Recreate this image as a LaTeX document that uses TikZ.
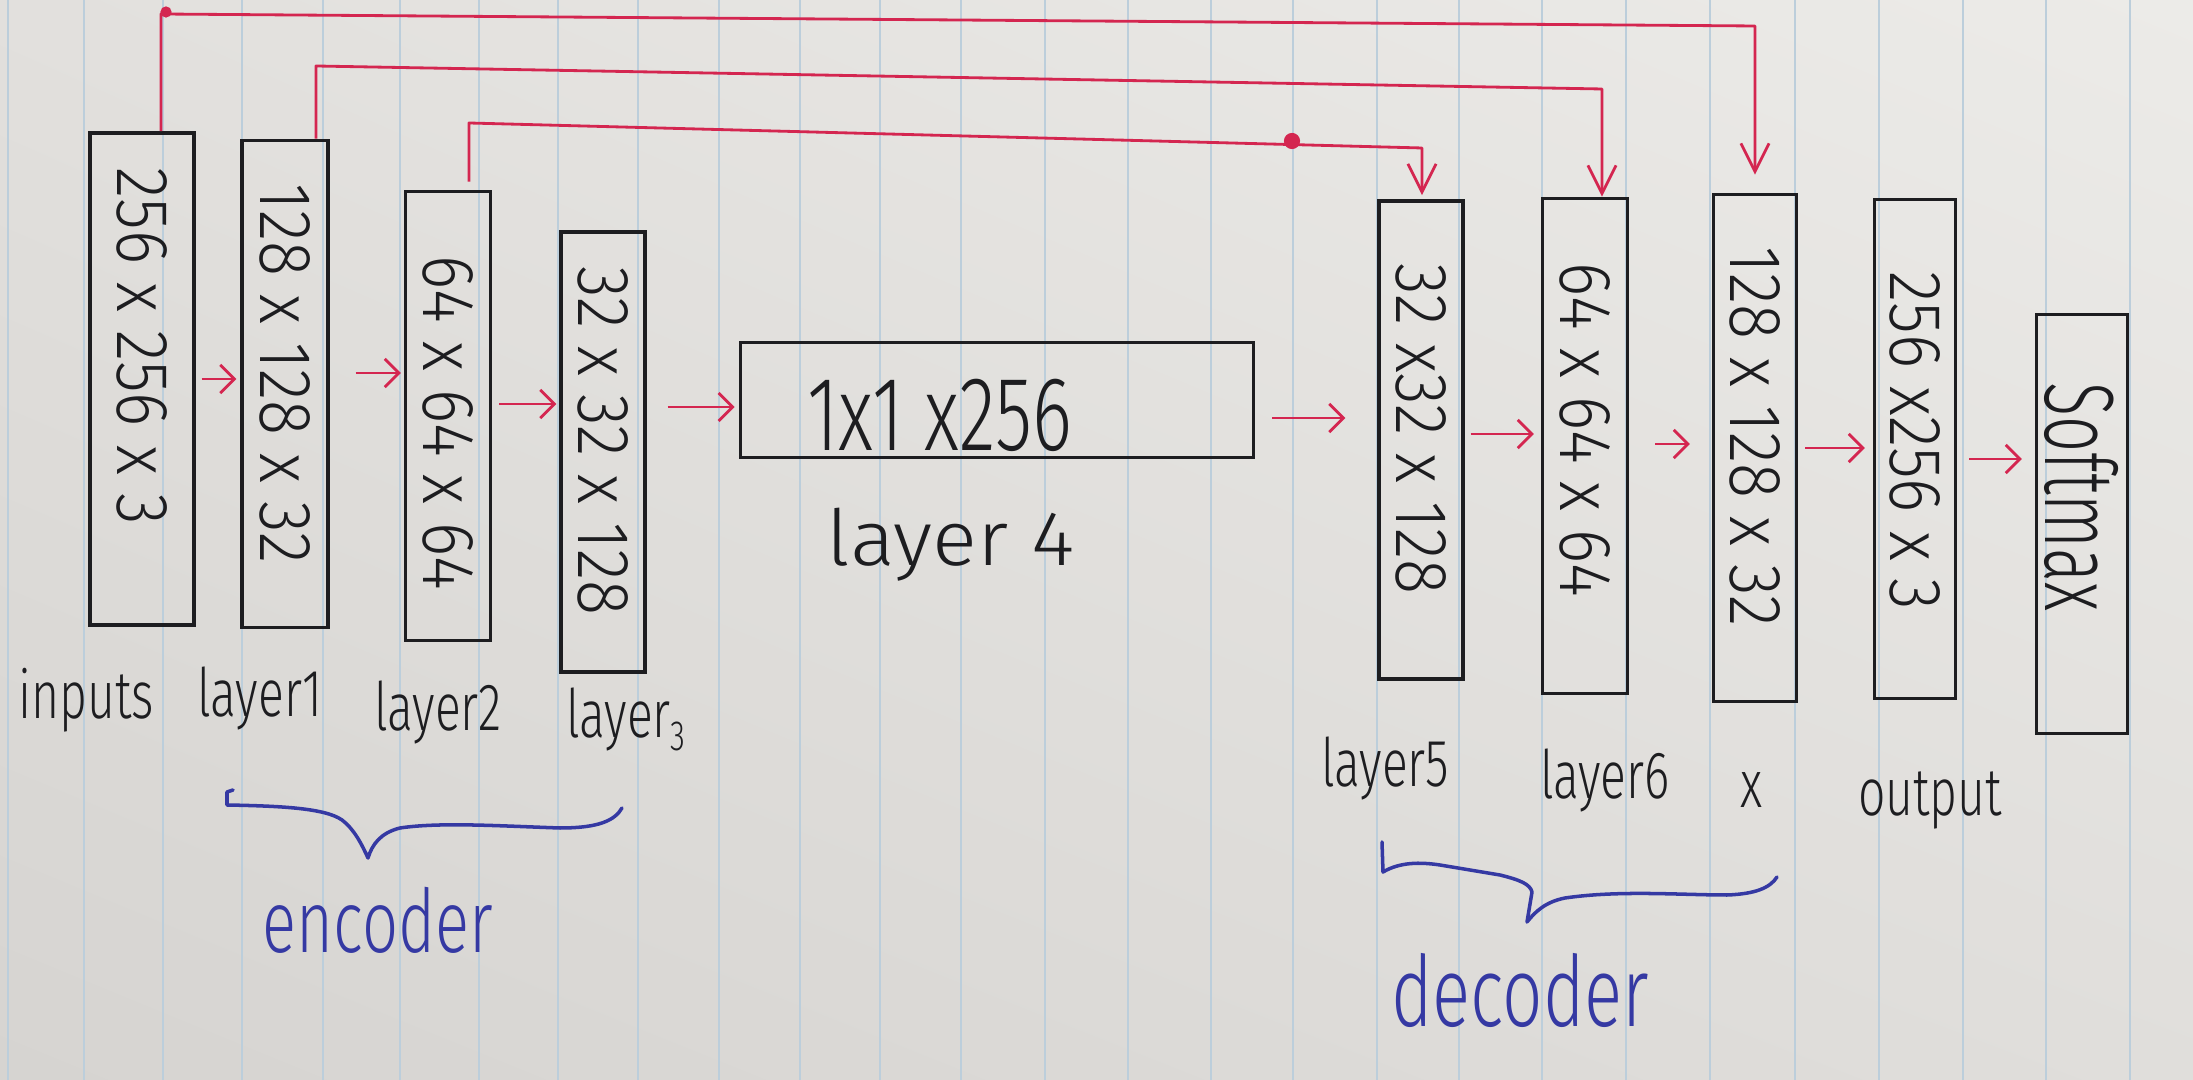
\documentclass[tikz,border=0pt]{standalone}
\usepackage{fontspec}
\newcommand\handname{Open Sans}
\IfFontExistsTF{Fira Sans Light}{\renewcommand\handname{Fira Sans Light}}{}
\newfontfamily\hand{\handname}[FakeStretch=0.72]
\newfontfamily\handdim{\handname}[FakeStretch=0.88]
\newfontfamily\handsm{\handname}[FakeStretch=0.64]
\newfontfamily\handwide{\handname}[FakeStretch=1.08]
\usetikzlibrary{arrows.meta,calc,shadings}
\definecolor{ink}{HTML}{1D1D20}
\definecolor{pen}{HTML}{D42650}
\definecolor{blueink}{HTML}{3539A3}
\definecolor{rule}{HTML}{BCCEDB}
\definecolor{paperUL}{HTML}{E2E0DD}
\definecolor{paperUR}{HTML}{ECEBE8}
\definecolor{paperLL}{HTML}{D6D4D1}
\definecolor{paperLR}{HTML}{E0DEDB}
\begin{document}
\begin{tikzpicture}[x=0.01cm,y=-0.01cm,
  box/.style={draw=ink, line width=0.95pt, inner sep=0pt},
  dim/.style={font=\handdim\fontsize{21}{21}\selectfont, text=ink, rotate=-90, inner sep=0pt},
  lab/.style={font=\hand\fontsize{19}{19}\selectfont, text=ink, inner sep=0pt},
  grp/.style={font=\hand\fontsize{#1}{#1}\selectfont, text=blueink, inner sep=0pt},
  flow/.style={draw=pen, line width=0.8pt, -{Straight Barb[length=4pt,width=8pt]}},
  skip/.style={draw=pen, line width=0.8pt, line join=round, -{Straight Barb[length=8pt,width=8pt]}},
  brace/.style={draw=blueink, line width=1pt, line join=round, line cap=round}]

% lined paper
\useasboundingbox (0,0) rectangle (2193,1080);
\shade[upper left=paperUL, upper right=paperUR, lower left=paperLL, lower right=paperLR]
  (0,0) rectangle (2193,1080);
\foreach \xr in {8,84,163,242,323,400,479,558,638,719,800,880,961,1045,
                 1128,1211,1293,1377,1459,1542,1626,1710,1795,1879,1963,2046,2130}
  \draw[rule, line width=0.5pt] (\xr,0) -- (\xr,1080);

% layer blocks
\node[box, minimum width=1.04cm, minimum height=4.92cm] (inp) at (142,379) {};
\node[box, minimum width=0.86cm, minimum height=4.87cm] (l1) at (285,384) {};
\node[box, minimum width=0.85cm, minimum height=4.49cm] (l2) at (448,416) {};
\node[box, minimum width=0.84cm, minimum height=4.40cm] (l3) at (603,452) {};
\node[box, minimum width=5.13cm, minimum height=1.15cm] (l4) at (997,400) {};
\node[box, minimum width=0.84cm, minimum height=4.78cm] (l5) at (1421,440) {};
\node[box, minimum width=0.85cm, minimum height=4.95cm] (l6) at (1585,446) {};
\node[box, minimum width=0.83cm, minimum height=5.07cm] (lx) at (1755,448) {};
\node[box, minimum width=0.81cm, minimum height=4.99cm] (out) at (1915,449) {};
\node[box, minimum width=0.91cm, minimum height=4.19cm] (sm) at (2082,524) {};

% tensor shapes
\node[dim] (tinp) at (142,346) {256 x 256 x 3};
\node[dim] (t1) at (285,374) {128 x 128 x 32};
\node[dim] (t2) at (448,423) {64 x 64 x 64};
\node[dim] (t3) at (603,441) {32 x 32 x 128};
\node[font=\hand\fontsize{30}{30}\selectfont, text=ink, inner sep=0pt] (t4) at (940,415) {1x1 x256};
\node[dim] (t5) at (1421,429) {32 x32 x 128};
\node[dim] (t6) at (1585,430) {64 x 64 x 64};
\node[dim] (tx) at (1755,437) {128 x 128 x 32};
\node[dim] (tout) at (1915,441) {256 x256 x 3};
\node[dim, font=\handsm\fontsize{28}{28}\selectfont] (tsm) at (2082,497) {Softmax};

% layer names
\node[lab] (ninp) at (86,700) {inputs};
\node[lab] (n1) at (260,698) {layer1};
\node[lab] (n2) at (438,713) {layer2};
\node[lab] (n3) at (626,720) {layer\raisebox{-0.35ex}{\fontsize{12}{12}\selectfont 3}};
\node[font=\handwide\fontsize{22}{22}\selectfont, text=ink, inner sep=0pt] (n4) at (951,545) {layer 4};
\node[lab] (n5) at (1385,768) {layer5};
\node[lab] (n6) at (1605,780) {layer6};
\node[lab] (nx) at (1752,790) {x};
\node[lab] (nout) at (1930,800) {output};

% forward flow
\foreach \a/\b/\yy/\s/\e in {inp/l1/379/6/4, l1/l2/373/26/3, l2/l3/404/7/3,
    l3/l4/407/21/4, l4/l5/418/17/32, l5/l6/434/6/7, l6/lx/444/26/22,
    lx/out/448/7/8, out/sm/459/12/13}
  \draw[flow] ($(\a.east |- 0,\yy)+(\s,0)$) -- ($(\b.west |- 0,\yy)+(-\e,0)$);

% skip connections
\draw[skip] (inp.north -| 161,0) -- (161,14) -- (1755,26) -- ($(lx.north -| 1755,0)+(0,-18)$);
\draw[skip] (l1.north -| 316,0) -- (316,66) -- (1602,89) -- (l6.north -| 1602,0);
\draw[skip] ($(l2.north -| 469,0)+(0,-8)$) -- (469,123) -- (1422,148) -- ($(l5.north -| 1422,0)+(0,-4)$);
\fill[pen] (166,12) circle (1.6pt);
\fill[pen] (1292,141) circle (2.3pt);

% encoder / decoder braces
\draw[brace] (233,790) -- (227,792) -- (227,805)
  .. controls (280,806) and (325,808) .. (342,820)
  .. controls (355,830) and (362,845) .. (368,858)
  .. controls (372,845) and (380,833) .. (400,828)
  .. controls (440,822) and (500,826) .. (560,828)
  .. controls (600,828) and (615,820) .. (622,808);
\node[grp=25] (enc) at (378,920) {encoder};
\draw[brace] (1382,842) -- (1383,872)
  .. controls (1400,862) and (1420,862) .. (1440,865) -- (1500,875)
  .. controls (1520,880) and (1530,884) .. (1532,892) -- (1527,922)
  .. controls (1535,912) and (1545,902) .. (1565,898)
  .. controls (1620,890) and (1680,895) .. (1727,895)
  .. controls (1755,894) and (1770,888) .. (1777,877);
\node[grp=28] (dec) at (1520,990) {decoder};
\end{tikzpicture}
\end{document}
